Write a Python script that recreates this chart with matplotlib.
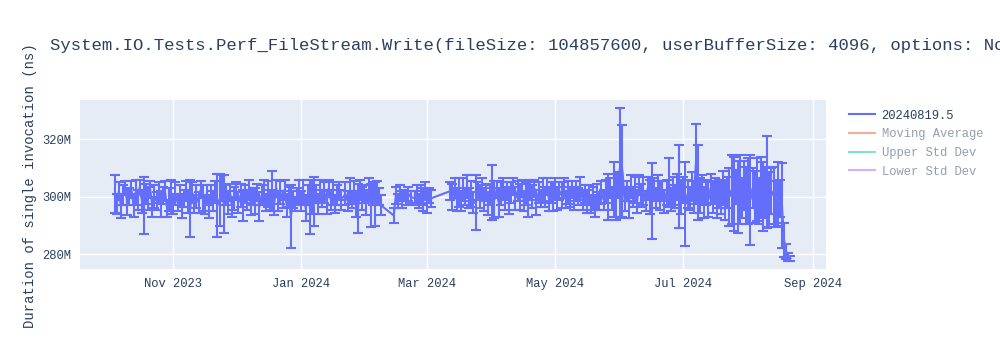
import pandas as pd
import matplotlib
matplotlib.use('Agg')
import matplotlib.pyplot as plt
import matplotlib.dates as mdates
from matplotlib.lines import Line2D
from matplotlib.ticker import FuncFormatter

plt.rcParams['font.family'] = ['Liberation Mono', 'DejaVu Sans']

# run dates (each segment is one sample per day)
segments = [
    ('2023-10-04', '2024-01-20'),
    ('2024-01-22', '2024-02-08'),
    ('2024-02-14', '2024-02-14'),
    ('2024-02-15', '2024-02-22'),
    ('2024-02-24', '2024-03-03'),
    ('2024-03-12', '2024-08-21'),
]

# mean duration per run, in millions of ns
duration_a = [
    301.0, 297.5, 302.0, 296.5, 300.5, 303.0, 298.0, 300.0, 302.5, 297.0,
    301.5, 299.0, 303.5, 298.5, 297.0, 301.0, 299.5, 302.5, 296.5, 300.0,
    298.5, 301.5, 297.5, 300.5, 302.0, 296.0, 299.0, 300.0, 297.5, 301.0,
    298.0, 300.5, 296.5, 299.5, 302.0, 298.5, 296.0, 301.5, 297.5, 300.0,
    298.0, 302.5, 299.5, 297.0, 300.5, 296.5, 301.0, 298.5, 302.0, 297.0,
    299.0, 303.0, 297.5, 300.5, 298.0, 301.5, 296.5, 299.5, 302.0, 298.0,
    300.5, 297.0, 301.0, 299.0, 302.5, 297.5, 300.0, 298.5, 301.5, 296.5,
    300.5, 302.0, 298.0, 301.0, 299.0, 302.0, 297.5, 303.0, 298.5, 301.5,
    299.0, 302.5, 297.0, 300.0, 293.0, 299.0, 297.5, 300.0, 301.5, 298.5,
    302.0, 296.0, 300.5, 296.5, 300.0, 298.5, 301.0, 297.5, 302.0, 299.5,
    301.5, 298.0, 303.0, 299.0, 301.0, 297.5, 300.5, 302.0, 299.0,
]
error_a = [
    6.5, 3.5, 3.0, 4.0, 3.5, 2.5, 4.5, 3.0, 3.0, 4.0,
    4.5, 3.5, 2.5, 4.0, 10.0, 3.5, 4.0, 3.0, 3.5, 4.0,
    3.0, 3.5, 4.5, 3.0, 3.5, 3.0, 4.0, 6.0, 3.5, 4.0,
    3.0, 3.5, 4.0, 3.0, 3.5, 4.0, 10.0, 3.5, 3.0, 4.0,
    3.5, 3.0, 4.5, 3.0, 3.5, 4.0, 3.0, 3.5, 3.5, 11.0,
    9.0, 4.5, 10.0, 3.5, 4.0, 3.0, 3.5, 4.0, 3.0, 3.5,
    4.0, 5.5, 3.0, 3.5, 3.5, 4.0, 3.0, 4.5, 3.0, 5.0,
    3.5, 4.0, 3.0, 4.5, 3.5, 7.0, 4.0, 3.0, 3.5, 4.0,
    3.0, 3.5, 4.0, 3.5, 11.0, 3.0, 2.5, 3.0, 4.5, 3.5,
    4.0, 4.5, 3.5, 9.5, 6.0, 8.5, 3.0, 3.5, 4.0, 3.0,
    3.5, 4.0, 3.0, 3.5, 4.0, 3.0, 3.5, 3.0, 3.5,
]

duration_b = [301.0, 298.5, 302.0, 299.0, 301.5, 297.5, 296.0, 302.5, 299.5,
              301.0, 298.0, 302.5, 297.0, 300.5, 297.5, 301.5, 300.0, 297.0]
error_b = [4.0, 3.5, 4.5, 3.0, 4.0, 4.5, 8.5, 3.5, 4.0,
           3.0, 4.5, 4.0, 7.5, 3.5, 7.5, 4.0, 3.0, 3.5]

duration_c = [293.5]
error_c = [2.5]

duration_d = [300.5, 298.5, 301.5, 299.0, 300.5, 299.5, 301.0, 300.0]
error_d = [3.0, 2.5, 2.5, 3.0, 2.0, 2.5, 2.5, 2.0]

duration_e = [299.5, 301.0, 298.5, 300.5, 299.0, 302.0, 298.0, 300.5, 299.5]
error_e = [2.5, 3.0, 2.5, 3.5, 4.0, 3.0, 3.5, 2.5, 3.0]

duration_f = [
    302.0, 300.0, 303.0, 299.0, 301.5, 298.5, 302.5, 300.0, 303.5, 299.5,
    301.0, 298.0, 298.0, 302.0, 300.0, 303.0, 299.0, 301.5, 297.5, 300.5,
    301.5, 299.0, 302.5, 298.0, 301.0, 303.0, 299.5, 302.0, 298.5, 301.5,
    303.5, 299.5, 302.0, 300.0, 303.0, 298.5, 301.0, 299.0, 302.5, 300.0,
    303.0, 298.0, 301.5, 299.5, 302.5, 300.0, 303.5, 299.0, 301.5, 300.0,
    303.0, 299.5, 302.0, 300.5, 303.0, 299.0, 301.5, 300.0, 302.5, 299.5,
    302.0, 300.0, 303.0, 299.0, 301.0, 298.5, 300.5, 297.5, 299.5, 296.5,
    300.0, 298.5, 301.5, 299.0, 302.0, 300.0, 303.0, 299.5, 302.5, 300.0,
    304.0, 311.8, 309.0, 299.0, 302.0, 298.0, 303.5, 300.0, 302.5, 298.5,
    304.0, 300.5, 302.0, 298.5, 303.0, 300.0, 298.6, 302.5, 299.5, 303.0,
    300.5, 302.0, 298.5, 301.5, 305.0, 299.0, 302.0, 300.0, 303.5, 303.5,
    300.0, 302.5, 297.5, 301.0, 299.5, 303.5, 300.0, 311.5, 305.0, 300.5,
    302.5, 298.0, 301.5, 299.0, 303.0, 300.0, 302.0, 298.5, 301.0, 299.5,
    303.0, 299.0, 301.5, 300.0, 302.5, 301.0, 303.5, 300.0, 302.5, 299.5,
    304.0, 300.5, 302.0, 299.0, 303.0, 300.0, 302.5, 298.5, 303.5, 300.0,
    301.5, 305.0, 299.0, 302.0, 300.5, 297.5, 301.0, 299.5, 297.0, 285.0,
    281.0, 279.0, 278.5,
]
error_f = [
    3.0, 4.5, 3.5, 4.0, 5.0, 3.5, 4.0, 3.0, 4.0, 3.5,
    4.5, 3.5, 9.5, 3.0, 4.0, 3.5, 4.0, 3.0, 4.0, 3.5,
    9.5, 6.5, 3.0, 5.0, 4.0, 3.5, 4.0, 3.0, 4.5, 3.5,
    3.0, 4.0, 3.5, 4.5, 3.0, 3.5, 4.0, 6.0, 3.5, 4.0,
    3.0, 4.5, 3.5, 3.0, 4.0, 3.5, 3.0, 4.0, 3.5, 5.0,
    3.5, 4.0, 3.0, 4.5, 3.5, 3.0, 4.0, 3.5, 3.0, 4.0,
    3.5, 3.0, 4.0, 3.5, 3.0, 4.0, 3.5, 3.0, 4.0, 3.5,
    4.5, 3.0, 4.0, 3.5, 4.0, 8.0, 3.5, 4.0, 9.5, 8.0,
    4.5, 19.2, 16.0, 4.0, 3.5, 5.5, 4.0, 3.5, 4.5, 4.0,
    3.5, 4.0, 5.0, 3.5, 4.0, 6.0, 13.3, 4.0, 3.5, 4.5,
    5.0, 3.5, 4.0, 4.5, 8.5, 4.0, 5.0, 4.0, 4.5, 14.5,
    6.0, 4.5, 14.5, 5.0, 4.0, 5.0, 5.5, 14.0, 13.0, 6.0,
    5.0, 5.5, 4.5, 6.0, 5.0, 5.5, 4.5, 6.0, 5.0, 5.5,
    6.0, 7.0, 5.5, 10.0, 12.0, 13.0, 6.0, 12.5, 12.0, 7.0,
    8.5, 10.0, 11.5, 15.7, 7.0, 9.0, 11.0, 8.0, 10.5, 12.0,
    9.0, 16.0, 9.5, 8.0, 10.0, 8.0, 11.0, 6.5, 14.7, 6.0,
    2.5, 1.5, 1.0,
]

title = ('System.IO.Tests.Perf_FileStream.Write(fileSize: 104857600, '
         'userBufferSize: 4096, options: None)')
legend_labels = ['20240819.5', 'Moving Average', 'Upper Std Dev', 'Lower Std Dev']
legend_colors = ['#636EFA', '#EF553B', '#00CC96', '#AB63FA']
x_ticks = ['2023-11-01', '2024-01-01', '2024-03-01', '2024-05-01', '2024-07-01', '2024-09-01']
y_ticks = [280, 300, 320]

dates = pd.DatetimeIndex([])
for start, end in segments:
    dates = dates.append(pd.date_range(start, end, freq='D'))
durations = duration_a + duration_b + duration_c + duration_d + duration_e + duration_f
errors = error_a + error_b + error_c + error_d + error_e + error_f

fig = plt.figure(figsize=(10, 3.5), dpi=100)
ax = fig.add_axes([0.08, 0.2306, 0.746, 0.4837])
ax.set_facecolor('#E5ECF6')
for s in ax.spines.values():
    s.set_visible(False)

ax.errorbar(dates, durations, yerr=errors, color='#636EFA', lw=1.5,
            elinewidth=1.5, capsize=3.5, capthick=1.5, zorder=3)

ax.set_xlim(pd.Timestamp('2023-09-17 12:00'), pd.Timestamp('2024-09-07'))
ax.set_ylim(274.76, 333.7)
ax.set_xticks(pd.to_datetime(x_ticks))
ax.xaxis.set_major_formatter(mdates.DateFormatter('%b %Y'))
ax.set_yticks(y_ticks)
ax.yaxis.set_major_formatter(FuncFormatter(lambda v, p: f'{v:.0f}M'))
ax.grid(True, color='white', lw=1, zorder=0)
ax.set_axisbelow(True)
ax.tick_params(length=0, labelsize=8.7, colors='#2a3f5f', pad=6)

# title is wider than the figure and gets clipped at the right edge, like the original
fig.text(0.05, 0.869, title, fontsize=12.4, color='#2a3f5f', va='center')
fig.text(0.03, 0.471, 'Duration of single invocation (ns)', rotation=90,
         fontsize=10, color='#2a3f5f', va='center', ha='center')

handles = []
for i, c in enumerate(legend_colors):
    handles.append(Line2D([], [], color=c, lw=1.5, alpha=1.0 if i == 0 else 0.5))
leg = fig.legend(handles, legend_labels, loc='upper left', bbox_to_anchor=(0.838, 0.718),
                 frameon=False, prop={'family': 'Liberation Mono', 'size': 8.7},
                 handlelength=2.2, handletextpad=0.5, labelspacing=0.55)
for i, t in enumerate(leg.get_texts()):
    t.set_color('#2a3f5f')
    if i > 0:
        t.set_alpha(0.5)

plt.savefig('out.png')
